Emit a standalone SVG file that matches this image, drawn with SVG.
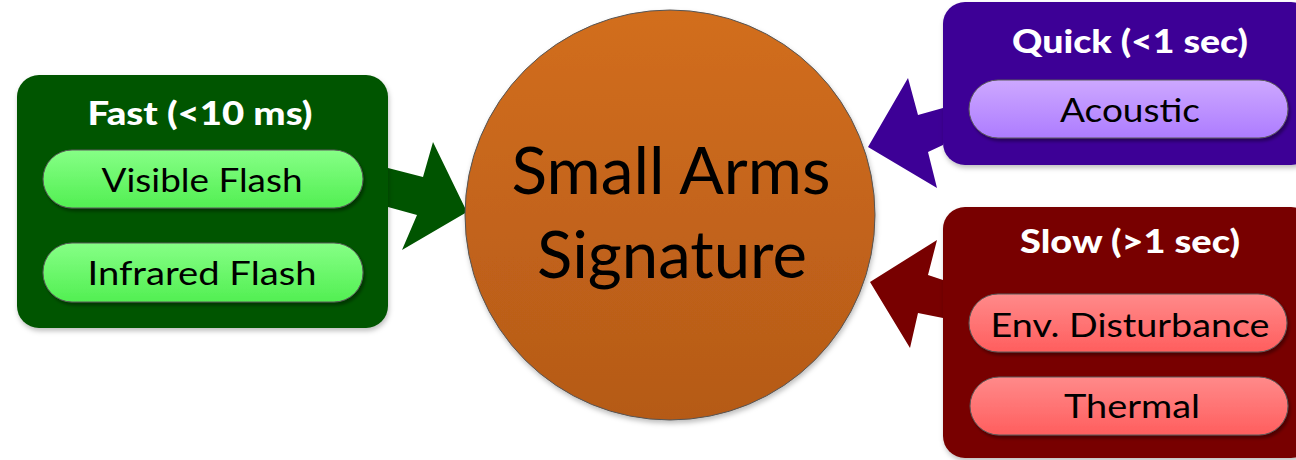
<svg xmlns="http://www.w3.org/2000/svg" width="1296" height="460" viewBox="0 0 1296 460">
<defs>
<linearGradient id="gOrange" x1="0" y1="0" x2="0" y2="1"><stop offset="0" stop-color="#d26e1d"/><stop offset="1" stop-color="#b55a18"/></linearGradient>
<linearGradient id="gGreen" x1="0" y1="0" x2="0" y2="1"><stop offset="0" stop-color="#86ff86"/><stop offset="1" stop-color="#52ef52"/></linearGradient>
<linearGradient id="gPurple" x1="0" y1="0" x2="0" y2="1"><stop offset="0" stop-color="#cda8ff"/><stop offset="1" stop-color="#ad7cff"/></linearGradient>
<linearGradient id="gRed" x1="0" y1="0" x2="0" y2="1"><stop offset="0" stop-color="#ff8a8a"/><stop offset="1" stop-color="#ff5e5e"/></linearGradient>
<filter id="sh" x="-10%" y="-10%" width="125%" height="130%"><feDropShadow dx="2" dy="3" stdDeviation="1.5" flood-color="#000" flood-opacity="0.35"/></filter>
<filter id="shSoft" x="-10%" y="-10%" width="125%" height="130%"><feDropShadow dx="1" dy="3" stdDeviation="2.5" flood-color="#000" flood-opacity="0.25"/></filter>
</defs>
<style>
.title{font-family:Lato,"Open Sans",sans-serif;font-weight:900;font-size:32px;fill:#fff;text-anchor:middle}
.item{font-family:Lato,"Open Sans",sans-serif;font-size:33px;fill:#000;text-anchor:middle}
.big{font-family:Lato,"Open Sans",sans-serif;font-size:65px;fill:#000;text-anchor:middle}
.pill{stroke:#5a5a5a;stroke-width:1;filter:url(#sh)}
.box{filter:url(#shSoft)}
</style>
<g id="connectors">
<polygon fill="#005400" points="388,168 423,177 433,142 467,212 402,250 417,215 388,207"/>
<polygon fill="#3d0096" points="943,108 918,115 908,78 868,147 937,188 928,152 943,145"/>
<polygon fill="#780000" points="943,280 928,275 937,240 870,282 910,348 918,313 943,318"/>
</g>
<g id="center">
<circle cx="670" cy="215" r="205" fill="url(#gOrange)" stroke="#555" stroke-width="1" filter="url(#shSoft)"/>
<text class="big" x="671" y="194" textLength="319" lengthAdjust="spacingAndGlyphs">Small Arms</text>
<text class="big" x="672" y="278" textLength="270" lengthAdjust="spacingAndGlyphs">Signature</text>
</g>
<g id="fast">
<rect class="box" x="17" y="75" width="371" height="253" rx="22" fill="#005400"/>
<text class="title" x="200" y="125" textLength="225" lengthAdjust="spacingAndGlyphs">Fast (&lt;10 ms)</text>
<g id="visible-flash">
<rect class="pill" x="43" y="150" width="320" height="58" rx="29" fill="url(#gGreen)"/>
<text class="item" x="202" y="192" textLength="201" lengthAdjust="spacingAndGlyphs">Visible Flash</text>
</g>
<g id="infrared-flash">
<rect class="pill" x="43" y="243" width="320" height="59" rx="29" fill="url(#gGreen)"/>
<text class="item" x="202" y="285" textLength="229" lengthAdjust="spacingAndGlyphs">Infrared Flash</text>
</g>
</g>
<g id="quick">
<rect class="box" x="943" y="2" width="370" height="163" rx="22" fill="#3d0096"/>
<text class="title" x="1130" y="53" textLength="236" lengthAdjust="spacingAndGlyphs">Quick (&lt;1 sec)</text>
<g id="acoustic">
<rect class="pill" x="969" y="80" width="319" height="58" rx="29" fill="url(#gPurple)"/>
<text class="item" x="1130" y="122" textLength="140" lengthAdjust="spacingAndGlyphs">Acoustic</text>
</g>
</g>
<g id="slow">
<rect class="box" x="943" y="207" width="370" height="251" rx="22" fill="#780000"/>
<text class="title" x="1130" y="253" textLength="220" lengthAdjust="spacingAndGlyphs">Slow (&gt;1 sec)</text>
<g id="env-disturbance">
<rect class="pill" x="969" y="294" width="318" height="58" rx="29" fill="url(#gRed)"/>
<text class="item" x="1130" y="337" textLength="279" lengthAdjust="spacingAndGlyphs">Env. Disturbance</text>
</g>
<g id="thermal">
<rect class="pill" x="970" y="377" width="318" height="58" rx="29" fill="url(#gRed)"/>
<text class="item" x="1132" y="418" textLength="136" lengthAdjust="spacingAndGlyphs">Thermal</text>
</g>
</g>
</svg>
